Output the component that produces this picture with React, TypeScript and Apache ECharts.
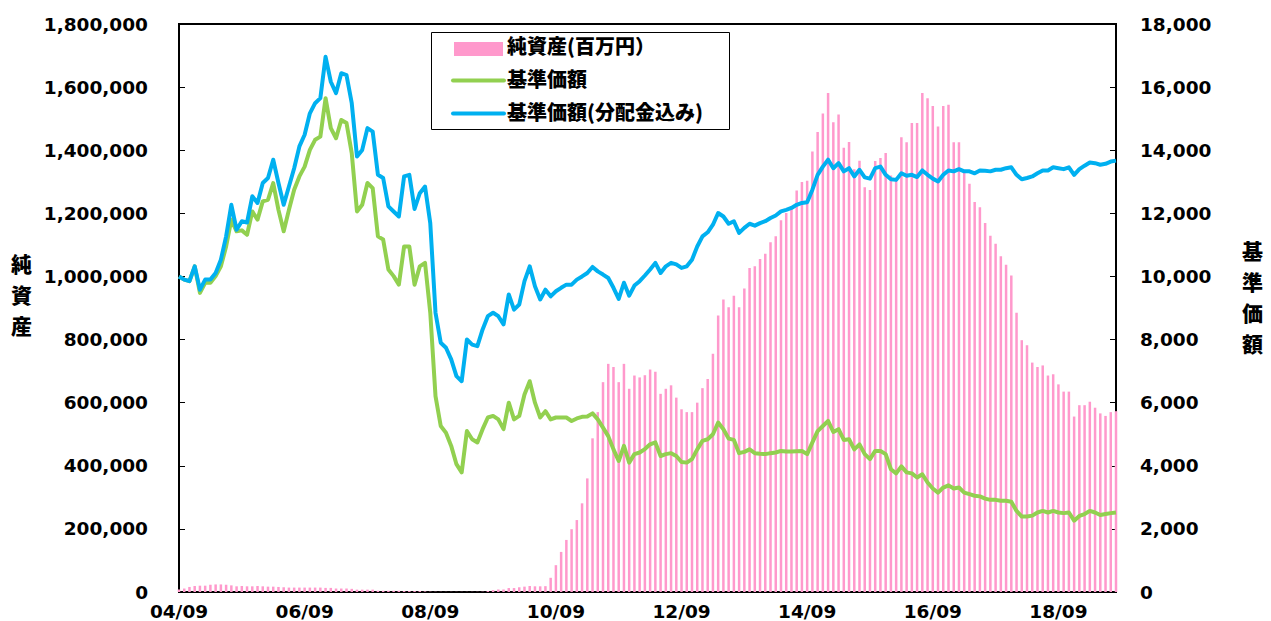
import React, { useEffect, useRef } from "react";
import * as echarts from "echarts";

// ---- categories: monthly, 2004/09 .. 2019/08 (YY/MM) ----
const START_YEAR = 2004;
const START_MONTH = 9;
const MONTH_COUNT = 180;
const months: string[] = [];
for (let k = 0; k < MONTH_COUNT; k++) {
  const m0 = START_MONTH - 1 + k;
  const y = START_YEAR + Math.floor(m0 / 12);
  const m = (m0 % 12) + 1;
  months.push(String(y % 100).padStart(2, "0") + "/" + String(m).padStart(2, "0"));
}

// ---- series names / titles ----
const NAME_ASSETS = "純資産(百万円）";
const NAME_NAV = "基準価額";
const NAME_NAV_DIV = "基準価額(分配金込み)";
const LEFT_TITLE = "純資産";
const RIGHT_TITLE = "基準価額";

// ---- net assets (百万円) ----
const netAssets: number[] = [
  8000, 11000, 16000, 19000, 20000, 20000, 23000, 24000, 24000, 23000,
  21000, 18000, 19000, 18000, 18000, 19000, 18000, 17000, 17000, 16000,
  15000, 14000, 14000, 14000, 14000, 14000, 14000, 14000, 13000, 13000,
  11000, 11000, 11000, 10000, 7500, 7500, 7500, 7500, 4000, 4000,
  4000, 4000, 4000, 3000, 3000, 3000, 3000, 2000, 1000, 800,
  600, 500, 500, 500, 500, 500, 500, 600, 900, 3000,
  6000, 8000, 8000, 12500, 12500, 15000, 17000, 19000, 18000, 18000,
  18500, 45000, 85000, 127000, 165000, 199000, 228000, 281000, 360000, 487000,
  570000, 665000, 723000, 713000, 665000, 723000, 644000, 686000, 680000, 687000,
  705000, 698000, 628000, 644000, 655000, 616000, 579000, 570000, 570000, 600000,
  646000, 675000, 755000, 876000, 927000, 902000, 939000, 902000, 962000, 1027000,
  1032000, 1055000, 1072000, 1108000, 1127000, 1178000, 1201000, 1217000, 1272000, 1299000,
  1303000, 1396000, 1458000, 1516000, 1581000, 1489000, 1513000, 1408000, 1426000, 1340000,
  1367000, 1283000, 1274000, 1366000, 1375000, 1391000, 1320000, 1310000, 1441000, 1425000,
  1486000, 1486000, 1581000, 1565000, 1540000, 1475000, 1540000, 1544000, 1425000, 1425000,
  1338000, 1294000, 1236000, 1219000, 1169000, 1129000, 1104000, 1064000, 1037000, 1003000,
  885000, 798000, 782000, 727000, 713000, 718000, 686000, 690000, 658000, 635000,
  635000, 556000, 592000, 592000, 603000, 584000, 566000, 558000, 570000, 573000,
];

// ---- NAV ----
const nav: number[] = [
  10000, 9900, 9850, 10320, 9480, 9800, 9800, 10010, 10320, 10950,
  11800, 11430, 11460, 11320, 12060, 11800, 12380, 12430, 12960, 12110,
  11430, 12110, 12750, 13170, 13480, 14010, 14330, 14430, 15650, 14700,
  14380, 14960, 14860, 13910, 12060, 12270, 12960, 12800, 11270, 11170,
  10220, 10010, 9740, 10950, 10950, 9740, 10320, 10430, 8850, 6210,
  5260, 5050, 4630, 4050, 3790, 5100, 4840, 4740, 5160, 5530,
  5580, 5470, 5160, 6000, 5470, 5580, 6260, 6680, 6000, 5530,
  5730, 5470, 5530, 5530, 5530, 5420, 5500, 5550, 5560, 5660,
  5470, 5210, 4940, 4520, 4150, 4630, 4100, 4370, 4420, 4530,
  4680, 4740, 4310, 4370, 4400, 4310, 4120, 4100, 4210, 4520,
  4790, 4840, 5000, 5370, 5160, 4860, 4820, 4400, 4440, 4520,
  4400, 4380, 4370, 4400, 4420, 4470, 4450, 4450, 4460, 4470,
  4370, 4740, 5100, 5260, 5420, 5070, 5160, 4820, 4840, 4520,
  4680, 4370, 4210, 4470, 4470, 4370, 3890, 3760, 3980, 3790,
  3760, 3630, 3730, 3470, 3280, 3150, 3310, 3380, 3280, 3310,
  3150, 3100, 3050, 3030, 2960, 2920, 2920, 2890, 2890, 2860,
  2570, 2390, 2390, 2420, 2520, 2570, 2520, 2570, 2520, 2500,
  2520, 2260, 2410, 2470, 2570, 2520, 2440, 2470, 2500, 2520,
];

// ---- NAV with dividends reinvested ----
const navWithDiv: number[] = [
  10000, 9900, 9850, 10320, 9580, 9900, 9900, 10110, 10530, 11270,
  12270, 11480, 11750, 11710, 12540, 12330, 12960, 13120, 13700, 12960,
  12270, 12850, 13430, 14120, 14490, 15170, 15490, 15650, 16960, 16170,
  15810, 16440, 16380, 15490, 13800, 14010, 14700, 14590, 13220, 13120,
  12220, 12060, 11900, 13170, 13220, 12140, 12640, 12850, 11690, 8850,
  7900, 7740, 7370, 6840, 6680, 8000, 7840, 7790, 8320, 8740,
  8850, 8740, 8480, 9430, 8950, 9110, 9850, 10320, 9690, 9270,
  9580, 9370, 9530, 9640, 9740, 9740, 9900, 10000, 10110, 10300,
  10160, 10060, 9950, 9640, 9290, 9800, 9390, 9710, 9850, 10030,
  10220, 10430, 10110, 10320, 10430, 10380, 10270, 10320, 10530, 10950,
  11270, 11400, 11640, 12010, 11900, 11670, 11750, 11380, 11540, 11670,
  11610, 11690, 11750, 11850, 11930, 12060, 12110, 12170, 12270, 12330,
  12350, 12750, 13220, 13480, 13700, 13430, 13590, 13330, 13430, 13170,
  13380, 13140, 13100, 13430, 13480, 13220, 13080, 13060, 13270, 13190,
  13220, 13150, 13360, 13220, 13100, 13010, 13220, 13360, 13330, 13400,
  13330, 13330, 13270, 13360, 13350, 13330, 13380, 13380, 13430, 13460,
  13220, 13080, 13120, 13170, 13270, 13360, 13360, 13460, 13430, 13400,
  13460, 13220, 13400, 13510, 13610, 13590, 13540, 13570, 13640, 13670,
];

const NUM_FONT = "'DejaVu Sans', Verdana, sans-serif";
const JP_FONT = "'Noto Sans CJK JP', 'Noto Sans', sans-serif";
const PINK = "#FF99CC";
const GREEN = "#92D050";
const BLUE = "#00B0F0";

const fmt = (v: number) => v.toLocaleString("en-US");

export default function App() {
  const ref = useRef<HTMLDivElement>(null);

  useEffect(() => {
    if (!ref.current) return;
    const chart = echarts.init(ref.current, undefined, { renderer: "svg" });

    const numLabel = {
      color: "#000",
      fontFamily: NUM_FONT,
      fontSize: 18.5,
      fontWeight: "bold" as const,
    };

    const jpText = (text: string, x: number, y: number, size: number, extra: any = {}) => ({
      type: "text",
      x,
      y,
      z: 101,
      style: {
        text,
        fill: "#000",
        fontFamily: JP_FONT,
        fontSize: size,
        fontWeight: 900,
        textVerticalAlign: "middle",
        verticalAlign: "middle",
        ...extra,
      },
    });

    const option: any = {
      animation: false,
      grid: {
        left: 179,
        right: 155,
        top: 24,
        bottom: 28,
        show: true,
        borderColor: "#000",
        borderWidth: 2,
        backgroundColor: "transparent",
      },
      xAxis: {
        type: "category",
        data: months,
        boundaryGap: false,
        axisLine: { show: true, lineStyle: { color: "#000", width: 2 } },
        axisTick: { show: false },
        axisLabel: { ...numLabel, interval: 23, margin: 10 },
        splitLine: { show: false },
      },
      yAxis: [
        {
          type: "value",
          min: 0,
          max: 1800000,
          interval: 200000,
          position: "left",
          axisLine: { show: true, lineStyle: { color: "#000", width: 2 } },
          axisTick: { show: true, inside: true, length: 6, lineStyle: { color: "#000", width: 1 } },
          axisLabel: { ...numLabel, margin: 31, formatter: (v: number) => fmt(v) },
          splitLine: { show: false },
        },
        {
          type: "value",
          min: 0,
          max: 18000,
          interval: 2000,
          position: "right",
          axisLine: { show: true, lineStyle: { color: "#000", width: 2 } },
          axisTick: { show: true, inside: true, length: 6, lineStyle: { color: "#000", width: 1 } },
          axisLabel: { ...numLabel, margin: 24, formatter: (v: number) => fmt(v) },
          splitLine: { show: false },
        },
      ],
      series: [
        {
          name: NAME_ASSETS,
          type: "bar",
          yAxisIndex: 0,
          data: netAssets,
          barWidth: 2.5,
          itemStyle: { color: PINK },
        },
        {
          name: NAME_NAV,
          type: "line",
          yAxisIndex: 1,
          data: nav,
          symbol: "none",
          lineStyle: { color: GREEN, width: 4, join: "round" },
          itemStyle: { color: GREEN },
        },
        {
          name: NAME_NAV_DIV,
          type: "line",
          yAxisIndex: 1,
          data: navWithDiv,
          symbol: "none",
          lineStyle: { color: BLUE, width: 4, join: "round" },
          itemStyle: { color: BLUE },
        },
      ],
      graphic: [
        {
          type: "rect",
          z: 100,
          shape: { x: 431.5, y: 32.5, width: 298, height: 97 },
          style: { fill: "#fff", stroke: "#000", lineWidth: 1 },
        },
        {
          type: "rect",
          z: 101,
          shape: { x: 454, y: 42, width: 49, height: 14 },
          style: { fill: PINK },
        },
        {
          type: "line",
          z: 101,
          shape: { x1: 453, y1: 80.5, x2: 504, y2: 80.5 },
          style: { stroke: GREEN, lineWidth: 4, lineCap: "round" },
        },
        {
          type: "line",
          z: 101,
          shape: { x1: 453, y1: 113.5, x2: 504, y2: 113.5 },
          style: { stroke: BLUE, lineWidth: 4, lineCap: "round" },
        },
        jpText(NAME_ASSETS, 507, 45, 20, { textAlign: "left", align: "left" }),
        jpText(NAME_NAV, 507, 78, 20, { textAlign: "left", align: "left" }),
        jpText(NAME_NAV_DIV, 507, 111, 20, { textAlign: "left", align: "left" }),
        jpText(LEFT_TITLE.split("").join("\n"), 21.5, 294, 21, {
          textAlign: "center",
          align: "center",
          lineHeight: 31,
        }),
        jpText(RIGHT_TITLE.split("").join("\n"), 1252.5, 296, 21, {
          textAlign: "center",
          align: "center",
          lineHeight: 31,
        }),
      ],
    };

    chart.setOption(option);
    return () => {
      chart.dispose();
    };
  }, []);

  return (
    <div
      ref={ref}
      style={{ position: "absolute", left: 0, top: 0, width: 1271, height: 621, background: "#fff" }}
    />
  );
}
